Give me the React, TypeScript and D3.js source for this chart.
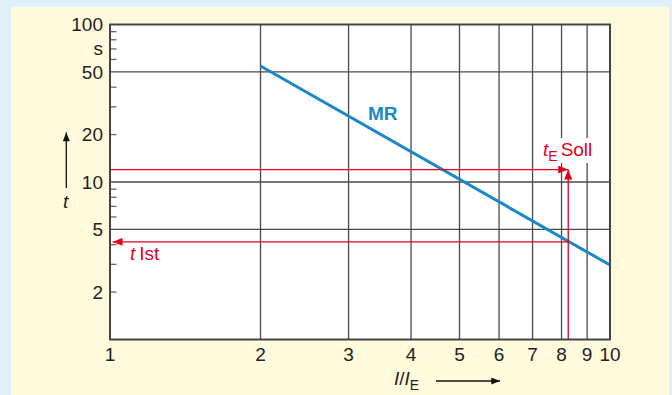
import React from 'react';
import * as d3 from 'd3';

// MR characteristic, read at the ends of the drawn line (I/IE, t in s)
const mrCurve: [number, number][] = [[2, 54.5], [10, 2.97]];

const xTicks = [1, 2, 3, 4, 5, 6, 7, 8, 9, 10];
const xGrid = [2, 3, 4, 5, 6, 7, 8, 9];
const yLabels = [100, 50, 20, 10, 5, 2];
const yGrid = [50, 10, 5];
const yMinor = [2, 3, 4, 6, 7, 8, 9, 20, 30, 40, 60, 70, 80, 90];

// red reading lines
const iRatio = 8.25;
const tSoll = 12;
const tIst = 4.17;

const W = 672;
const H = 395;
const margin = { top: 24.5, right: 62, bottom: 55.5, left: 110 };

const red = '#e2001a';
const blue = '#1a88c8';
const font = '"Liberation Sans", Arial, sans-serif';
const fs = 19;

export default function App() {
  const x = d3.scaleLog().domain([1, 10]).range([margin.left, W - margin.right]);
  const y = d3.scaleLog().domain([1, 100]).range([H - margin.bottom, margin.top]);

  const line = d3.line<[number, number]>()
    .x(d => x(d[0]))
    .y(d => y(d[1]));

  const x0 = x(1), x1 = x(10), y0 = y(1), y1 = y(100);

  return (
    <svg width={W} height={H} style={{ position: 'fixed', left: 0, top: 0 }} fontFamily={font}>
      <defs>
        <marker id="redHead" viewBox="0 0 10 8" refX="10" refY="4" markerWidth="10" markerHeight="8"
          markerUnits="userSpaceOnUse" orient="auto">
          <path d="M0,0 L10,4 L0,8 Z" fill={red} />
        </marker>
        <marker id="blackHead" viewBox="0 0 10 8" refX="10" refY="4" markerWidth="10" markerHeight="7"
          markerUnits="userSpaceOnUse" orient="auto">
          <path d="M0,0 L10,4 L0,8 Z" fill="#111" />
        </marker>
      </defs>
      <rect width={W} height={H} fill="#def1fa" />
      <rect x={11} y={7} width={658} height={H - 7} fill="#fffadc" />
      <rect x={x0} y={y1} width={x1 - x0} height={y0 - y1} fill="#fff" />

      {/* grid */}
      {xGrid.map(v => (
        <line key={'gx' + v} x1={x(v)} x2={x(v)} y1={y1} y2={y0} stroke="#4a4a4a" strokeWidth={1.3} />
      ))}
      {yGrid.map(v => (
        <line key={'gy' + v} x1={x0} x2={x1} y1={y(v)} y2={y(v)} stroke="#4a4a4a" strokeWidth={1.3} />
      ))}
      {yMinor.map(v => (
        <line key={'my' + v} x1={x0} x2={x0 + 6.5} y1={y(v)} y2={y(v)} stroke="#666" strokeWidth={1.3} />
      ))}

      {/* MR curve */}
      <path d={line(mrCurve) || ''} fill="none" stroke={blue} strokeWidth={3} />
      <text x={368} y={120} fill={blue} fontSize={fs} fontWeight="bold">MR</text>

      {/* red reading lines */}
      <line x1={x0} x2={x(iRatio)} y1={y(tSoll)} y2={y(tSoll)} stroke={red} strokeWidth={1.3}
        markerEnd="url(#redHead)" />
      <line x1={x(iRatio)} x2={x(iRatio)} y1={y0} y2={y(tSoll)} stroke={red} strokeWidth={1.3}
        markerEnd="url(#redHead)" />
      <line x1={x(iRatio)} x2={x0 + 2.5} y1={y(tIst)} y2={y(tIst)} stroke={red} strokeWidth={1.3}
        markerEnd="url(#redHead)" />

      <rect x={541} y={138} width={58} height={25} fill="#fff" />
      <text x={543} y={156} fill={red} fontSize={fs}>
        <tspan fontStyle="italic">t</tspan>
        <tspan fontSize={14} dy={5}>E</tspan>
        <tspan dy={-5} dx={3}>Soll</tspan>
      </text>
      <text x={130} y={260} fill={red} fontSize={fs}>
        <tspan fontStyle="italic">t</tspan>
        <tspan dx={4}>Ist</tspan>
      </text>

      {/* frame */}
      <rect x={x0} y={y1} width={x1 - x0} height={y0 - y1} fill="none" stroke="#444" strokeWidth={2} />

      {/* axis labels */}
      {xTicks.map(v => (
        <text key={'xt' + v} x={x(v)} y={y0 + 21.5} textAnchor="middle" fontSize={fs} fill="#222">{v}</text>
      ))}
      {yLabels.map(v => (
        <text key={'yt' + v} x={103} y={y(v)} dy="0.36em" textAnchor="end" fontSize={fs} fill="#222">{v}</text>
      ))}
      <text x={103} y={y(70)} dy="0.3em" textAnchor="end" fontSize={fs} fill="#222">s</text>

      {/* axis titles */}
      <text x={63} y={208} fontSize={fs} fontStyle="italic" fill="#222">t</text>
      <line x1={66.3} x2={66.3} y1={188} y2={132.5} stroke="#111" strokeWidth={1.3} markerEnd="url(#blackHead)" />
      <text x={394} y={385} fontSize={fs} fill="#222">
        <tspan fontStyle="italic">I</tspan>
        <tspan>/</tspan>
        <tspan fontStyle="italic">I</tspan>
        <tspan fontSize={14} dy={5}>E</tspan>
      </text>
      <line x1={436} x2={500} y1={381} y2={381} stroke="#111" strokeWidth={1.3} markerEnd="url(#blackHead)" />
    </svg>
  );
}
